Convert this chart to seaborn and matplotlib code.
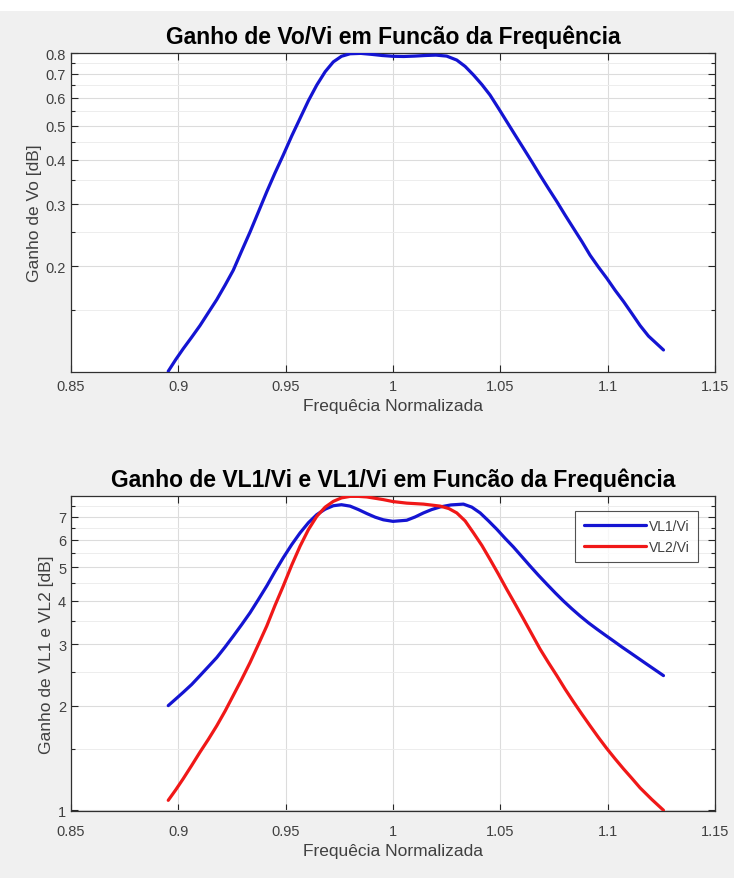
import numpy as np
import pandas as pd
import matplotlib
matplotlib.use("Agg")
import matplotlib.pyplot as plt
import matplotlib.ticker as mticker
import seaborn as sns

# ---------------- data ----------------
freq_vo = [0.8953, 0.8988, 0.9023, 0.9062, 0.9101, 0.9140, 0.9179, 0.9218, 0.9256, 0.9295,
           0.9334, 0.9373, 0.9412, 0.9450, 0.9489, 0.9528, 0.9567, 0.9606, 0.9645, 0.9684,
           0.9722, 0.9760, 0.9800, 0.9850, 0.9900, 0.9950, 1.0000, 1.0050, 1.0100, 1.0150,
           1.0200, 1.0250, 1.0297, 1.0336, 1.0375, 1.0414, 1.0452, 1.0491, 1.0530, 1.0569,
           1.0608, 1.0647, 1.0685, 1.0724, 1.0763, 1.0802, 1.0841, 1.0880, 1.0918, 1.0957,
           1.0996, 1.1035, 1.1074, 1.1113, 1.1151, 1.1190, 1.1260]
gain_vo = [0.101, 0.109, 0.117, 0.126, 0.136, 0.148, 0.161, 0.177, 0.195, 0.221,
           0.250, 0.285, 0.325, 0.367, 0.413, 0.467, 0.524, 0.588, 0.651, 0.710,
           0.757, 0.785, 0.798, 0.800, 0.795, 0.789, 0.785, 0.784, 0.786, 0.789,
           0.791, 0.786, 0.766, 0.735, 0.695, 0.653, 0.610, 0.560, 0.513, 0.470,
           0.431, 0.395, 0.362, 0.332, 0.305, 0.279, 0.256, 0.235, 0.215, 0.199,
           0.185, 0.171, 0.159, 0.147, 0.136, 0.127, 0.116]

freq_vl1 = [0.8953, 0.8988, 0.9023, 0.9062, 0.9101, 0.9140, 0.9179, 0.9218, 0.9256, 0.9295,
            0.9334, 0.9373, 0.9412, 0.9450, 0.9489, 0.9528, 0.9567, 0.9606, 0.9645, 0.9684,
            0.9722, 0.9760, 0.9800, 0.9839, 0.9878, 0.9917, 0.9955, 1.0000, 1.0064, 1.0103,
            1.0142, 1.0180, 1.0220, 1.0270, 1.0328, 1.0367, 1.0406, 1.0445, 1.0484, 1.0522,
            1.0561, 1.0600, 1.0639, 1.0678, 1.0717, 1.0756, 1.0794, 1.0833, 1.0872, 1.0911,
            1.0950, 1.0989, 1.1027, 1.1066, 1.1105, 1.1183, 1.1260]
gain_vl1 = [2.00, 2.09, 2.185, 2.30, 2.44, 2.59, 2.75, 2.95, 3.17, 3.42,
            3.70, 4.04, 4.42, 4.86, 5.33, 5.81, 6.28, 6.72, 7.09, 7.35,
            7.52, 7.57, 7.50, 7.33, 7.14, 6.97, 6.85, 6.78, 6.83, 6.98,
            7.17, 7.33, 7.46, 7.56, 7.60, 7.45, 7.17, 6.80, 6.43, 6.06,
            5.72, 5.37, 5.04, 4.74, 4.47, 4.22, 4.00, 3.80, 3.62, 3.46,
            3.32, 3.19, 3.07, 2.95, 2.84, 2.63, 2.44]

freq_vl2 = [0.8953, 0.8988, 0.9023, 0.9062, 0.9101, 0.9140, 0.9179, 0.9218, 0.9256, 0.9295,
            0.9334, 0.9373, 0.9412, 0.9450, 0.9489, 0.9528, 0.9567, 0.9606, 0.9645, 0.9684,
            0.9722, 0.9760, 0.9800, 0.9839, 0.9878, 0.9917, 0.9955, 1.0000, 1.0064, 1.0142,
            1.0220, 1.0260, 1.0297, 1.0336, 1.0375, 1.0414, 1.0452, 1.0491, 1.0530, 1.0569,
            1.0608, 1.0647, 1.0685, 1.0724, 1.0763, 1.0802, 1.0841, 1.0880, 1.0918, 1.0957,
            1.0996, 1.1035, 1.1074, 1.1113, 1.1151, 1.1205, 1.1260]
gain_vl2 = [1.068, 1.145, 1.233, 1.345, 1.47, 1.60, 1.75, 1.93, 2.14, 2.38,
            2.66, 3.00, 3.39, 3.88, 4.42, 5.07, 5.75, 6.42, 7.01, 7.45,
            7.74, 7.92, 8.00, 8.00, 7.97, 7.90, 7.83, 7.73, 7.65, 7.60,
            7.50, 7.38, 7.17, 6.80, 6.28, 5.78, 5.27, 4.78, 4.32, 3.92,
            3.55, 3.21, 2.91, 2.66, 2.44, 2.23, 2.05, 1.89, 1.75, 1.62,
            1.505, 1.405, 1.315, 1.235, 1.16, 1.075, 1.00]

x_ticks = [0.85, 0.9, 0.95, 1.0, 1.05, 1.1, 1.15]
x_ticklabels = ["0.85", "0.9", "0.95", "1", "1.05", "1.1", "1.15"]
y1_ticks = [0.2, 0.3, 0.4, 0.5, 0.6, 0.7, 0.8]
y1_minor = [0.15, 0.25, 0.35, 0.45, 0.55, 0.65, 0.75]
y2_ticks = [1, 2, 3, 4, 5, 6, 7]
y2_minor = [1.5, 2.5, 3.5, 4.5, 5.5, 6.5, 7.5]

title1 = "Ganho de Vo/Vi em Funcão da Frequência"
title2 = "Ganho de VL1/Vi e VL1/Vi em Funcão da Frequência"
xlabel = "Frequêcia Normalizada"
ylabel1 = "Ganho de Vo [dB]"
ylabel2 = "Ganho de VL1 e VL2 [dB]"
legend_labels = ["VL1/Vi", "VL2/Vi"]

# ---------------- style ----------------
sns.set_style("ticks")
plt.rcParams["font.family"] = ["Liberation Sans", "DejaVu Sans"]

BG = "#f0f0f0"
AX_COL = "#404040"
GRID_COL = "#dcdcdc"
BLUE = "#1414d2"
RED = "#f01818"

fig = plt.figure(figsize=(7.34, 8.79), dpi=100, facecolor=BG)
fig.patches.append(plt.Rectangle((0, 1 - 12 / 879), 1, 12 / 879, transform=fig.transFigure,
                                 facecolor="white", edgecolor="none", zorder=0))

ax1 = fig.add_axes([71 / 734, 1 - 373 / 879, 644 / 734, 319 / 879])
ax2 = fig.add_axes([71 / 734, 1 - 812 / 879, 644 / 734, 315 / 879])

df_vo = pd.DataFrame({"f": freq_vo, "g": gain_vo})
df_l1 = pd.DataFrame({"f": freq_vl1, "g": gain_vl1})
df_l2 = pd.DataFrame({"f": freq_vl2, "g": gain_vl2})

sns.lineplot(data=df_vo, x="f", y="g", ax=ax1, color=BLUE, lw=2.3, sort=False, zorder=3)
sns.lineplot(data=df_l1, x="f", y="g", ax=ax2, color=BLUE, lw=2.3, sort=False, zorder=3,
             label=legend_labels[0])
sns.lineplot(data=df_l2, x="f", y="g", ax=ax2, color=RED, lw=2.3, sort=False, zorder=3,
             label=legend_labels[1])


def style_axis(ax, yt, ym, ylim, ylabel, title, xpad):
    ax.set_facecolor("white")
    ax.set_yscale("log")
    ax.set_xlim(0.85, 1.15)
    ax.set_ylim(*ylim)
    ax.xaxis.set_major_locator(mticker.FixedLocator(x_ticks))
    ax.xaxis.set_major_formatter(mticker.FixedFormatter(x_ticklabels))
    ax.xaxis.set_minor_locator(mticker.NullLocator())
    ax.yaxis.set_major_locator(mticker.FixedLocator(yt))
    ax.yaxis.set_major_formatter(mticker.FixedFormatter([f"{v:g}" for v in yt]))
    ax.yaxis.set_minor_locator(mticker.FixedLocator(ym))
    ax.yaxis.set_minor_formatter(mticker.NullFormatter())
    ax.grid(True, which="major", color=GRID_COL, lw=0.8, zorder=0)
    ax.grid(True, which="minor", axis="y", color="#ededed", lw=0.7, zorder=0)
    ax.tick_params(which="both", direction="in", top=True, right=True, colors="#262626",
                   labelcolor=AX_COL, labelsize=10.5, length=5, width=0.8)
    ax.tick_params(axis="x", pad=xpad)
    ax.tick_params(which="minor", length=3)
    for s in ax.spines.values():
        s.set_color("#303030")
        s.set_linewidth(0.9)
        s.set_visible(True)
    ax.set_xlabel(xlabel, fontsize=12.5, color=AX_COL, labelpad=4)
    ax.set_ylabel(ylabel, fontsize=12.5, color=AX_COL, labelpad=3)
    ax.set_title(title, fontsize=16.5, fontweight="bold", color="black", pad=7)


style_axis(ax1, y1_ticks, y1_minor, (0.1005, 0.802), ylabel1, title1, 5)
style_axis(ax2, y2_ticks, y2_minor, (0.995, 8.02), ylabel2, title2, 9)

leg = ax2.legend(loc="upper right", bbox_to_anchor=(1 - 17 / 644, 1 - 15 / 315), fontsize=10,
                 frameon=True, fancybox=False, handlelength=4.5, borderpad=0.6,
                 labelspacing=0.45, handletextpad=0.2, borderaxespad=0)
leg.get_frame().set_edgecolor("#262626")
leg.get_frame().set_linewidth(0.8)
for t in leg.get_texts():
    t.set_color(AX_COL)

fig.savefig("out.png", dpi=100, facecolor=BG)
